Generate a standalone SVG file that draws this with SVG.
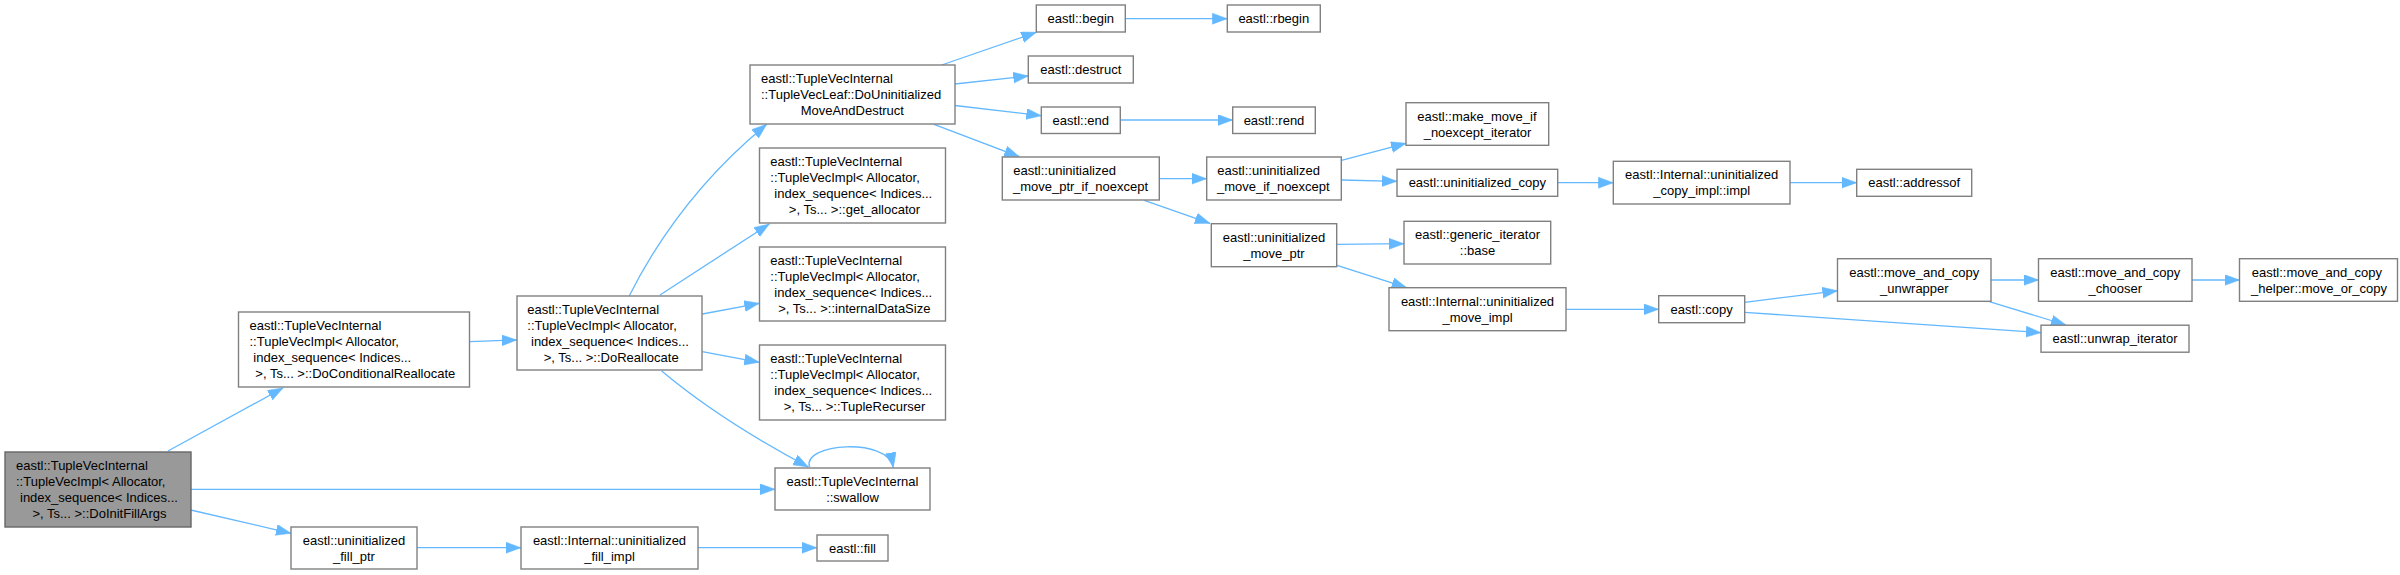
<svg xmlns="http://www.w3.org/2000/svg" width="2400" height="575" viewBox="0 0 2400 575">
<style>
.n rect{fill:#ffffff;stroke:#808080;stroke-width:1.4}
.root rect{fill:#999999;stroke:#666666;stroke-width:1.4}
text{font-family:"Liberation Sans",Arial,sans-serif;font-size:13px;fill:#000000}
.c{text-anchor:middle}
.e path{fill:none;stroke:#63b8ff;stroke-width:1.3;marker-end:url(#ah)}
</style>
<defs>
<marker id="ah" markerUnits="userSpaceOnUse" markerWidth="16" markerHeight="12" refX="15" refY="5.5" orient="auto">
<path d="M0,0 L15,5.5 L0,11 z" fill="#63b8ff" stroke="#63b8ff" stroke-width="0.5"/>
</marker>
</defs>
<rect width="2400" height="575" fill="#ffffff"/>
<g id="edges" class="e">
<path d="M168,451 L283,388"/>
<path d="M191,489.3 L775,489.3"/>
<path d="M190.7,510 L291,533.3"/>
<path d="M469.3,341.7 Q495,340.5 516.7,340"/>
<path d="M417,547.7 L521,547.7"/>
<path d="M698,547.7 L817,547.7"/>
<path d="M629.3,295.7 C660,235 705,175 766.7,124.3"/>
<path d="M660,295 L769.3,224"/>
<path d="M702.3,314 L759.3,303.3"/>
<path d="M702.3,351.7 L759.3,362.3"/>
<path d="M661.7,371 Q720,420 808.3,467"/>
<path d="M809.5,467 C802,443 888,437 893.3,467.5"/>
<path d="M941.7,65 L1036.3,32.3"/>
<path d="M954.7,84 L1028.3,76"/>
<path d="M954.7,105.5 L1041.3,115.7"/>
<path d="M934,124.3 L1019.3,156.7"/>
<path d="M1125.3,18.7 L1227.3,18.7"/>
<path d="M1120.3,120 L1232.7,120"/>
<path d="M1159.3,178.7 L1206.7,178.7"/>
<path d="M1144.3,200.3 L1210,223.3"/>
<path d="M1341.5,160.3 L1406,143.3"/>
<path d="M1341.5,180 L1397,181.3"/>
<path d="M1337,244.3 L1404,243.7"/>
<path d="M1337,265.3 L1406.7,287.7"/>
<path d="M1557.7,182.7 L1613.3,182.7"/>
<path d="M1790,182.7 L1856.7,182.7"/>
<path d="M1566,309.3 L1658.7,309.3"/>
<path d="M1744.7,302.3 L1837.5,290.8"/>
<path d="M1744.7,312.3 L2041,332.7"/>
<path d="M1990.5,280 L2038.5,280"/>
<path d="M2192,280 L2239.5,280"/>
<path d="M1989.3,301.7 L2066,325"/>
</g>
<g id="n1" class="root"><rect x="5" y="452" width="186" height="75"/>
<text x="16" y="470">eastl::TupleVecInternal</text>
<text x="16" y="486">::TupleVecImpl&lt; Allocator,</text>
<text x="20" y="502">index_sequence&lt; Indices...</text>
<text class="c" x="99.5" y="518">&gt;, Ts... &gt;::DoInitFillArgs</text></g>
<g id="n2" class="n"><rect x="238.5" y="312" width="231" height="75"/>
<text x="249.5" y="329.8">eastl::TupleVecInternal</text>
<text x="249.5" y="345.8">::TupleVecImpl&lt; Allocator,</text>
<text x="253.3" y="361.8">index_sequence&lt; Indices...</text>
<text class="c" x="355.3" y="377.8">&gt;, Ts... &gt;::DoConditionalReallocate</text></g>
<g id="n3" class="n"><rect x="291" y="527" width="126" height="42"/>
<text class="c" x="354" y="544.5">eastl::uninitialized</text>
<text class="c" x="354" y="560.5">_fill_ptr</text></g>
<g id="n4" class="n"><rect x="517" y="296" width="185" height="74"/>
<text x="527.3" y="313.5">eastl::TupleVecInternal</text>
<text x="527.3" y="329.5">::TupleVecImpl&lt; Allocator,</text>
<text x="531" y="345.5">index_sequence&lt; Indices...</text>
<text class="c" x="611.2" y="361.5">&gt;, Ts... &gt;::DoReallocate</text></g>
<g id="n5" class="n"><rect x="750" y="65" width="205" height="59"/>
<text x="761" y="83.3">eastl::TupleVecInternal</text>
<text x="761" y="99.3">::TupleVecLeaf::DoUninitialized</text>
<text class="c" x="852.3" y="115.3">MoveAndDestruct</text></g>
<g id="n6" class="n"><rect x="759.5" y="148" width="186" height="75"/>
<text x="770.3" y="165.7">eastl::TupleVecInternal</text>
<text x="770.3" y="181.7">::TupleVecImpl&lt; Allocator,</text>
<text x="774.3" y="197.7">index_sequence&lt; Indices...</text>
<text class="c" x="854.5" y="213.7">&gt;, Ts... &gt;::get_allocator</text></g>
<g id="n7" class="n"><rect x="759.5" y="247" width="186" height="74"/>
<text x="770.3" y="264.5">eastl::TupleVecInternal</text>
<text x="770.3" y="280.5">::TupleVecImpl&lt; Allocator,</text>
<text x="774.3" y="296.5">index_sequence&lt; Indices...</text>
<text class="c" x="854.3" y="312.5">&gt;, Ts... &gt;::internalDataSize</text></g>
<g id="n8" class="n"><rect x="759.5" y="345" width="186" height="75"/>
<text x="770.3" y="363">eastl::TupleVecInternal</text>
<text x="770.3" y="379">::TupleVecImpl&lt; Allocator,</text>
<text x="774.3" y="395">index_sequence&lt; Indices...</text>
<text class="c" x="854.5" y="411">&gt;, Ts... &gt;::TupleRecurser</text></g>
<g id="n9" class="n"><rect x="775" y="468" width="155" height="42"/>
<text class="c" x="852.5" y="485.5">eastl::TupleVecInternal</text>
<text class="c" x="852.5" y="501.5">::swallow</text></g>
<g id="n10" class="n"><rect x="521" y="527" width="177" height="42"/>
<text class="c" x="609.5" y="544.5">eastl::Internal::uninitialized</text>
<text class="c" x="609.5" y="560.5">_fill_impl</text></g>
<g id="n11" class="n"><rect x="817" y="535" width="71" height="26"/>
<text class="c" x="852.5" y="552.5">eastl::fill</text></g>
<g id="n12" class="n"><rect x="1036.3" y="5" width="89" height="27"/>
<text class="c" x="1080.8" y="23">eastl::begin</text></g>
<g id="n13" class="n"><rect x="1227.3" y="5" width="93" height="27"/>
<text class="c" x="1273.8" y="23">eastl::rbegin</text></g>
<g id="n14" class="n"><rect x="1028.3" y="56" width="105" height="27"/>
<text class="c" x="1080.8" y="73.7">eastl::destruct</text></g>
<g id="n15" class="n"><rect x="1041.3" y="107" width="79" height="26.5"/>
<text class="c" x="1080.8" y="124.5">eastl::end</text></g>
<g id="n16" class="n"><rect x="1232.7" y="107" width="82.6" height="26.5"/>
<text class="c" x="1274" y="124.5">eastl::rend</text></g>
<g id="n17" class="n"><rect x="1002.3" y="157" width="157" height="43"/>
<text x="1013.3" y="175">eastl::uninitialized</text>
<text class="c" x="1080.5" y="191">_move_ptr_if_noexcept</text></g>
<g id="n18" class="n"><rect x="1206.7" y="157" width="134.6" height="43"/>
<text x="1217.3" y="175">eastl::uninitialized</text>
<text class="c" x="1273.3" y="191">_move_if_noexcept</text></g>
<g id="n19" class="n"><rect x="1211.3" y="223.7" width="125.4" height="43"/>
<text class="c" x="1274" y="241.7">eastl::uninitialized</text>
<text class="c" x="1274" y="257.7">_move_ptr</text></g>
<g id="n20" class="n"><rect x="1406" y="102.7" width="142.7" height="42.6"/>
<text x="1417.3" y="120.5">eastl::make_move_if</text>
<text class="c" x="1477.5" y="136.5">_noexcept_iterator</text></g>
<g id="n21" class="n"><rect x="1397" y="169.3" width="160.7" height="27"/>
<text class="c" x="1477.3" y="187.3">eastl::uninitialized_copy</text></g>
<g id="n22" class="n"><rect x="1404" y="221.3" width="146.7" height="42.7"/>
<text class="c" x="1477.5" y="239.2">eastl::generic_iterator</text>
<text class="c" x="1477.5" y="255.2">::base</text></g>
<g id="n23" class="n"><rect x="1389" y="287.7" width="177" height="43"/>
<text class="c" x="1477.5" y="305.7">eastl::Internal::uninitialized</text>
<text class="c" x="1477.5" y="321.7">_move_impl</text></g>
<g id="n24" class="n"><rect x="1613.3" y="161.3" width="176.7" height="42.7"/>
<text class="c" x="1701.7" y="179.2">eastl::Internal::uninitialized</text>
<text class="c" x="1701.7" y="195.2">_copy_impl::impl</text></g>
<g id="n25" class="n"><rect x="1856.7" y="169.3" width="115" height="27"/>
<text class="c" x="1914.2" y="187.3">eastl::addressof</text></g>
<g id="n26" class="n"><rect x="1658.7" y="295.7" width="86" height="27"/>
<text class="c" x="1701.7" y="313.7">eastl::copy</text></g>
<g id="n27" class="n"><rect x="1837.5" y="258.7" width="153.5" height="42.6"/>
<text class="c" x="1914.3" y="276.5">eastl::move_and_copy</text>
<text class="c" x="1914.3" y="292.5">_unwrapper</text></g>
<g id="n28" class="n"><rect x="2038.5" y="258.7" width="153.5" height="42.6"/>
<text class="c" x="2115.3" y="276.5">eastl::move_and_copy</text>
<text class="c" x="2115.3" y="292.5">_chooser</text></g>
<g id="n29" class="n"><rect x="2239.5" y="258.7" width="158" height="42.6"/>
<text x="2251.8" y="276.5">eastl::move_and_copy</text>
<text class="c" x="2319" y="292.5">_helper::move_or_copy</text></g>
<g id="n30" class="n"><rect x="2041" y="325.2" width="148" height="27"/>
<text class="c" x="2115" y="343.2">eastl::unwrap_iterator</text></g>
</svg>
